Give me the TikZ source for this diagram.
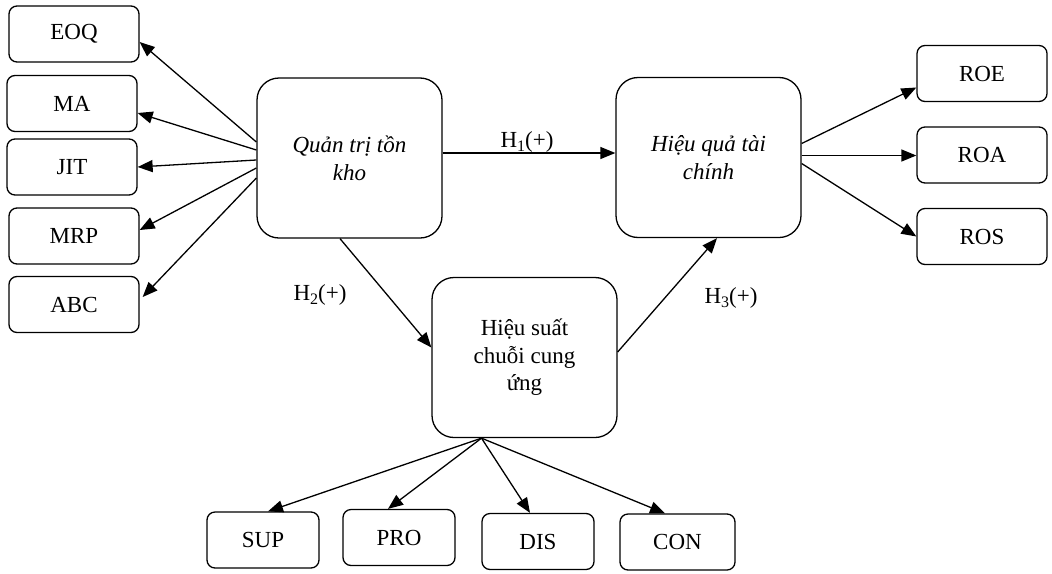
\documentclass[tikz,border=0pt]{standalone}
\usepackage{fontspec}
\setmainfont{Liberation Serif}
\usetikzlibrary{arrows.meta}
\newcommand\hsub[1]{\raisebox{-0.35ex}{\footnotesize #1}}
\tikzset{
  every picture/.style={line width=0.65pt},
  smallbox/.style={draw, rounded corners=4pt, minimum width=65pt, minimum height=28pt, inner sep=0pt, font=\fontsize{11.5}{13.8}\selectfont},
  botbox/.style={smallbox, minimum width=56pt},
  bigbox/.style={draw, rounded corners=11pt, minimum width=92.5pt, minimum height=80pt, inner sep=0pt, align=center, font=\fontsize{11.5}{13.8}\selectfont},
  arr/.style={-{Triangle[length=7.5pt,width=6pt]}},
  hlab/.style={font=\fontsize{11.5}{13.8}\selectfont, inner sep=0pt}
}
\begin{document}
\begin{tikzpicture}[x=0.5pt,y=-0.5pt]
\useasboundingbox (0,0) rectangle (1052,573);
% left boxes
\node[smallbox] (eoq) at (74,34) {EOQ};
\node[smallbox] (ma) at (72,103.5) {MA};
\node[smallbox] (jit) at (72,167) {JIT};
\node[smallbox] (mrp) at (74,236) {MRP};
\node[smallbox] (abc) at (74,304.5) {ABC};
% big boxes
\node[bigbox] (qt) at (349.5,158) {\itshape Quản trị tồn\\\itshape kho};
\node[bigbox] (hq) at (708.5,157.5) {\itshape Hiệu quả tài\\\itshape chính};
\node[bigbox] (hs) at (524.5,357.5) {Hiệu suất\\chuỗi cung\\ứng};
% right boxes
\node[smallbox] (roe) at (982,73.5) {ROE};
\node[smallbox] (roa) at (982,155) {ROA};
\node[smallbox] (ros) at (982,236.5) {ROS};
% bottom boxes
\node[botbox] (sup) at (263,540) {SUP};
\node[botbox] (pro) at (399,537.5) {PRO};
\node[botbox] (dis) at (538,541.5) {DIS};
\node[botbox, minimum width=57.5pt] (con) at (677.5,542) {CON};
% left arrows
\draw[arr] ([yshift=8pt]qt.west) -- ([yshift=-4pt]eoq.east);
\draw[arr] ([yshift=4pt]qt.west) -- ([yshift=-4.75pt]ma.east);
\draw[arr] ([yshift=-1pt]qt.west) -- (jit.east);
\draw[arr] ([yshift=-5pt]qt.west) -- ([yshift=3pt]mrp.east);
\draw[arr] ([yshift=-10pt]qt.west) -- ([yshift=3.75pt,xshift=1.5pt]abc.east);
% hypotheses
\coordinate (h1s) at ([yshift=2.5pt]qt.east);
\draw[arr] (h1s) -- (h1s -| hq.west);
\draw[arr] ([xshift=-4.75pt]qt.south) -- ([yshift=5pt]hs.west);
\draw[arr] ([yshift=2.75pt]hs.east) -- ([xshift=4.25pt]hq.south);
\node[hlab] (l1) at (527,142) {H\hsub{1}(+)};
\node[hlab] (l2) at (320,295) {H\hsub{2}(+)};
\node[hlab] (l3) at (731,298) {H\hsub{3}(+)};
% right arrows
\draw[arr] ([yshift=7pt]hq.east) -- ([yshift=-7pt]roe.west);
\coordinate (ras) at ([yshift=1pt]hq.east);
\draw[arr] (ras) -- (ras -| roa.west);
\draw[arr] ([yshift=-3pt]hq.east) -- (ros.west);
% bottom arrows
\coordinate (bo) at ([xshift=-21.5pt]hs.south);
\draw[arr] (bo) -- ([xshift=2.5pt]sup.north);
\draw[arr] (bo) -- ([xshift=-5.5pt]pro.north);
\draw[arr] (bo) -- ([xshift=-4pt]dis.north);
\draw[arr] (bo) -- ([xshift=-6.25pt]con.north);
\end{tikzpicture}
\end{document}
